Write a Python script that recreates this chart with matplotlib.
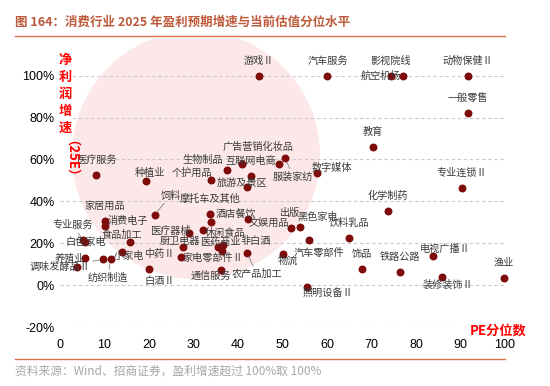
import matplotlib
matplotlib.use('Agg')
import matplotlib.pyplot as plt
from matplotlib.patches import Ellipse, Rectangle
from matplotlib.lines import Line2D

plt.rcParams['font.family'] = ['Noto Sans CJK SC', 'DejaVu Sans']

# data: PE percentile (x) and 2025E profit growth % (y)
names = ['游戏Ⅱ', '汽车服务', '影视院线', '航空机场', '动物保健Ⅱ', '一般零售', '教育',
         '医疗服务', '种植业', '个护用品', '生物制品', '', '互联网电商', '广告营销化妆品',
         '旅游及景区', '服装家纺', '数字媒体', '专业连锁Ⅱ', '化学制药', '饲料', '摩托车及其他',
         '家居用品', '消费电子', '酒店餐饮', '休闲食品', '文娱用品', '出版', '黑色家电',
         '饮料乳品', '医疗器械', '专业服务', '食品加工', '白色家电', '厨卫电器', '医药商业',
         '非白酒', '养殖业', '', '小家电', '中药Ⅱ', '家电零部件Ⅱ', '汽车零部件', '饰品',
         '铁路公路', '电视广播Ⅱ', '物流', '纺织制造', '调味发酵品Ⅱ', '白酒Ⅱ', '通信服务',
         '农产品加工', '照明设备Ⅱ', '装修装饰Ⅱ', '渔业']
pe_pct = [44.7, 60.1, 74.4, 77.1, 91.6, 91.6, 70.3,
          8.2, 19.3, 33.9, 37.5, 40.8, 42.9, 49.2,
          42.0, 50.6, 57.8, 90.3, 73.6, 21.3, 33.7,
          10.1, 10.1, 33.9, 32.2, 42.3, 51.8, 53.9,
          64.9, 29.1, 5.2, 15.7, 5.6, 27.7, 35.4,
          36.7, 5.6, 3.9, 13.9, 27.3, 36.4, 56.0, 67.8,
          76.4, 83.8, 50.0, 11.4, 9.6, 20.1, 36.1,
          42.0, 55.4, 85.8, 99.8]
growth = [100, 100, 100, 100, 100, 82.0, 66.1,
          52.4, 49.8, 50.2, 54.9, 57.8, 52.1, 57.8,
          47.0, 60.5, 53.4, 46.5, 35.6, 33.7, 33.9,
          30.7, 28.2, 30.2, 26.3, 31.5, 27.4, 27.9,
          22.6, 25.0, 21.4, 20.7, 20.6, 18.3, 18.4,
          19.1, 12.8, 8.7, 15.9, 13.2, 16.4, 21.5, 7.5,
          6.4, 13.9, 14.8, 12.3, 12.3, 7.5, 7.2,
          15.4, -0.8, 4.0, 3.5]

x_ticks = [0, 10, 20, 30, 40, 50, 60, 70, 80, 90, 100]
y_ticks = [-20, 0, 20, 40, 60, 80, 100]

title = '图 164：消费行业 2025 年盈利预期增速与当前估值分位水平'
source = '资料来源：Wind、招商证券，盈利增速超过 100%取 100%'

# label placement (pixels from the dot, label centre); default is straight above
offsets = {
    '航空机场': (-22, 0), '种植业': (4, 8), '个护用品': (-19, 7), '生物制品': (-24, 10),
    '广告营销化妆品': (-21, 17), '旅游及景区': (-5, 4), '服装家纺': (8, -18),
    '数字媒体': (15, 6), '饲料': (16, 19), '消费电子': (23, 5), '酒店餐饮': (25, 8),
    '休闲食品': (22, -3), '文娱用品': (21, -4), '黑色家电': (18, 10), '医疗器械': (-19, 2),
    '专业服务': (-10, 15), '食品加工': (-8, 7), '白色家电': (1, 0), '厨卫电器': (-3, 6),
    '医药商业': (3, 5), '非白酒': (32, 4), '养殖业': (-15, 0), '小家电': (7, -4),
    '中药Ⅱ': (-22, 3), '家电零部件Ⅱ': (-9, -7), '汽车零部件': (10, -13),
    '电视广播Ⅱ': (12, 7), '物流': (5, -7), '纺织制造': (-3, -18), '调味发酵品Ⅱ': (-43, -8),
    '白酒Ⅱ': (10, -12), '通信服务': (-10, -7), '农产品加工': (10, -21),
    '照明设备Ⅱ': (21, -6), '装修装饰Ⅱ': (6, -8),
}
leaders = ['服装家纺', '饲料', '专业服务', '纺织制造', '调味发酵品Ⅱ', '农产品加工']

W, H = 550, 386
fig = plt.figure(figsize=(W / 100, H / 100), dpi=100)

# pale pink highlight circle behind the plot
circ = Ellipse((196 / W, 1 - 155 / H), 248 / W, 248 / H, transform=fig.transFigure,
               facecolor='#FCE8E8', edgecolor='none', zorder=-1)
fig.add_artist(circ)
circ.set_clip_path(Rectangle((0, 0), 1, 1 - 39 / H, transform=fig.transFigure))

ax = fig.add_axes([60 / W, 59 / H, 445 / W, 251.3 / H])
ax.set_facecolor('none')
ax.set_xlim(0, 100)
ax.set_ylim(-20, 100)
for s in ax.spines.values():
    s.set_visible(False)
ax.set_xticks(x_ticks)
ax.set_xticklabels([str(v) for v in x_ticks], family='Liberation Sans', fontsize=9)
ax.set_yticks(y_ticks)
ax.set_yticklabels([f'{v}%' for v in y_ticks], family='Liberation Sans', fontsize=9)
ax.tick_params(length=0)
ax.tick_params(axis='x', pad=9)
ax.tick_params(axis='y', pad=4)
ax.yaxis.grid(True, linestyle=(0, (3, 2.5)), color='#C9C9C9', lw=0.8)
ax.set_axisbelow(True)

ax.scatter(pe_pct, growth, s=22, color='#7E0A0A', zorder=3, clip_on=False)

for n, x, y in zip(names, pe_pct, growth):
    if not n:
        continue
    dx, dy = offsets.get(n, (0, 15))
    arrow = None
    if n in leaders:
        arrow = dict(arrowstyle='-', color='#808080', lw=0.6, shrinkA=0, shrinkB=3)
    ax.annotate(n, (x, y), xytext=(dx, dy), textcoords='offset pixels',
                ha='center', va='center', fontsize=7.3, color='#3A3A3A',
                arrowprops=arrow, zorder=4, annotation_clip=False)

# vertical y-axis title
red = '#FF0000'
for i, ch in enumerate('净利润增速'):
    fig.text(65 / W, 1 - (60 + i * 17) / H, ch, color=red, fontsize=9.5, fontweight='bold',
             ha='center', va='center',
             bbox=dict(facecolor='white', edgecolor='none', pad=0.5))
fig.text(65 / W, 1 - 165 / H, '（25E）', color=red, fontsize=9.5, fontweight='bold',
         rotation=-90, ha='center', va='center',
         bbox=dict(facecolor='white', edgecolor='none', pad=0.5))
fig.text(498 / W, 1 - 331 / H, 'PE分位数', color=red, fontsize=9.5, fontweight='bold',
         ha='center', va='center')

# header and footer
fig.text(15 / W, 1 - 22 / H, title, color='#BE5A3C', fontsize=9, fontweight='bold',
         ha='left', va='center')
fig.add_artist(Line2D([15 / W, 505 / W], [1 - 36 / H] * 2, color='#D9734E', lw=1))
fig.add_artist(Line2D([15 / W, 505 / W], [1 - 359 / H] * 2, color='#D9734E', lw=1))
fig.text(15 / W, 1 - 371 / H, source, color='#A6A6A6', fontsize=8.5, ha='left', va='center')

fig.savefig('out.png', dpi=100)
